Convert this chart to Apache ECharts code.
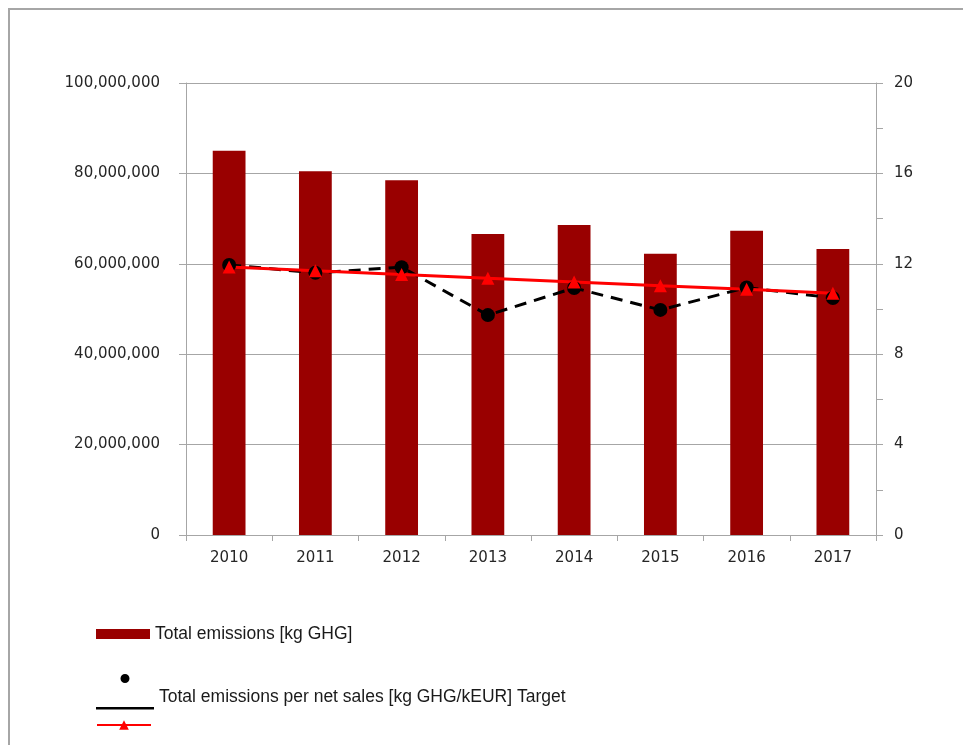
<!DOCTYPE html>
<html>
<head>
<meta charset="utf-8">
<script src="https://cdn.jsdelivr.net/npm/echarts@6/dist/echarts.min.js"></script>
<style>
    html, body { margin: 0; padding: 0; background: #fff; }
    #frame { position: absolute; left: 8px; top: 8px; right: 0; bottom: 0;
             border-top: 2px solid #a6a6a6; border-left: 2px solid #a6a6a6; }
    #chart { position: absolute; left: 0; top: 0; width: 963px; height: 745px; }
</style>
</head>
<body>
<div id="frame"></div>
<div id="chart"></div>
<script>
// chart data
var years = ['2010', '2011', '2012', '2013', '2014', '2015', '2016', '2017'];
var total_emissions = [85000000, 80500000, 78500000, 66600000, 68600000, 62200000, 67300000, 63300000];
var per_sales = [11.95, 11.6, 11.85, 9.73, 10.93, 9.96, 10.95, 10.49];
var target = [11.86, 11.69, 11.53, 11.36, 11.2, 11.03, 10.87, 10.7];

var name_bar = 'Total emissions [kg GHG]';
var name_sales = 'Total emissions per net sales [kg GHG/kEUR]';
var name_target = 'Target';

var gray = '#a6a6a6';
var axis_text = { color: '#262626', fontFamily: 'DejaVu Sans', fontSize: 15 };
var legend_text = { color: '#1a1a1a', fontFamily: 'Liberation Sans', fontSize: 17.5 };

var chart = echarts.init(document.getElementById('chart'));

chart.setOption({
    animation: false,
    grid: { left: 186, right: 87, top: 83, bottom: 210 },
    xAxis: {
        type: 'category',
        data: years,
        axisLine: { lineStyle: { color: gray, width: 1 } },
        axisTick: { show: true, length: 6, lineStyle: { color: gray } },
        axisLabel: Object.assign({ margin: 16 }, axis_text),
        splitLine: { show: false }
    },
    yAxis: [
        {
            type: 'value',
            min: 0,
            max: 100000000,
            interval: 20000000,
            axisLine: { show: true, lineStyle: { color: gray } },
            axisTick: { show: true, length: 7, lineStyle: { color: gray } },
            axisLabel: Object.assign({
                margin: 26,
                formatter: function (v) { return v.toLocaleString('en-US'); }
            }, axis_text),
            splitLine: { show: true, lineStyle: { color: gray, width: 1 } }
        },
        {
            type: 'value',
            min: 0,
            max: 20,
            interval: 4,
            position: 'right',
            axisLine: { show: true, lineStyle: { color: gray } },
            axisTick: { show: true, length: 7, lineStyle: { color: gray } },
            minorTick: { show: true, splitNumber: 2, length: 7, lineStyle: { color: gray } },
            axisLabel: Object.assign({ margin: 18 }, axis_text),
            splitLine: { show: false }
        }
    ],
    legend: [
        {
            left: 96,
            top: 625,
            padding: 0,
            itemWidth: 54,
            itemHeight: 10,
            textStyle: legend_text,
            data: [{ name: name_bar, icon: 'rect' }]
        },
        {
            left: 96,
            top: 674,
            padding: 0,
            itemWidth: 58,
            itemHeight: 36,
            textStyle: Object.assign({
                rich: { t: Object.assign({ padding: [11, 0, 0, 0] }, legend_text) }
            }, legend_text),
            formatter: function (n) { return '{t|' + n + ' Target}'; },
            data: [{
                name: name_sales,
                icon: 'path://M0,33.5 L58,33.5 L58,36 L0,36 Z M29,0.5 A4.5,4.5 0 1,1 29,9.5 A4.5,4.5 0 1,1 29,0.5 Z'
            }]
        },
        {
            left: 96,
            top: 719,
            padding: 0,
            itemWidth: 54,
            itemHeight: 12,
            textStyle: legend_text,
            formatter: function () { return ''; },
            data: [name_target]
        }
    ],
    series: [
        {
            name: name_bar,
            type: 'bar',
            barWidth: '38%',
            itemStyle: { color: '#990000' },
            data: total_emissions
        },
        {
            name: name_sales,
            type: 'line',
            yAxisIndex: 1,
            symbol: 'circle',
            symbolSize: 14,
            itemStyle: { color: '#000' },
            lineStyle: { color: '#000', width: 3, type: [12, 8] },
            data: per_sales
        },
        {
            name: name_target,
            type: 'line',
            yAxisIndex: 1,
            symbol: 'triangle',
            symbolSize: 13,
            itemStyle: { color: '#ff0000' },
            lineStyle: { color: '#ff0000', width: 3 },
            data: target
        }
    ]
});
</script>
</body>
</html>
